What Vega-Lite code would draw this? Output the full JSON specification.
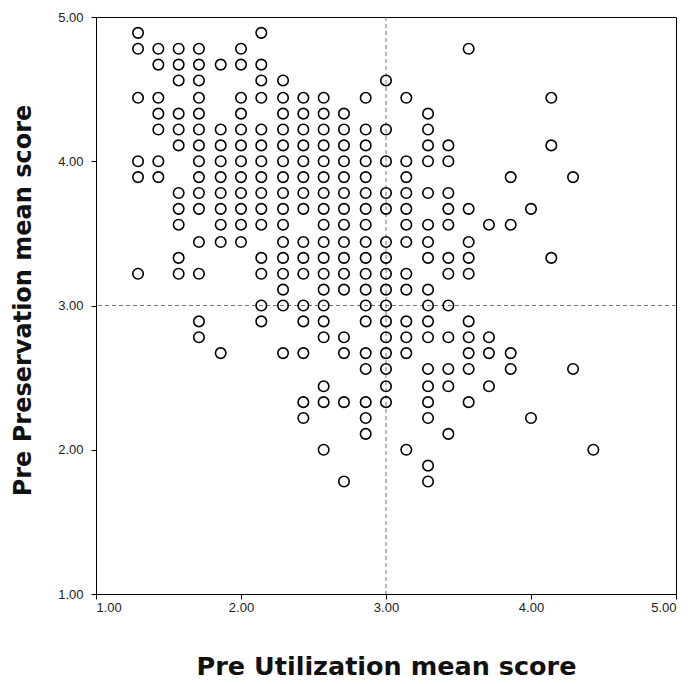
{
  "$schema": "https://vega.github.io/schema/vega-lite/v6.json",
  "width": 580,
  "height": 577,
  "autosize": "none",
  "padding": {"left": 96, "top": 17, "right": 16, "bottom": 90},
  "background": "white",
  "config": {"view": {"stroke": "black", "strokeWidth": 1}},
  "datasets": {
    "pts": [
      {"x":1.29,"y":4.89},{"x":1.29,"y":4.78},{"x":1.29,"y":4.44},{"x":1.29,"y":4.00},{"x":1.29,"y":3.89},{"x":1.29,"y":3.22},
      {"x":1.43,"y":4.78},{"x":1.43,"y":4.67},{"x":1.43,"y":4.44},{"x":1.43,"y":4.33},{"x":1.43,"y":4.22},{"x":1.43,"y":4.00},{"x":1.43,"y":3.89},
      {"x":1.57,"y":4.78},{"x":1.57,"y":4.67},{"x":1.57,"y":4.56},{"x":1.57,"y":4.33},{"x":1.57,"y":4.22},{"x":1.57,"y":4.11},{"x":1.57,"y":3.78},{"x":1.57,"y":3.67},{"x":1.57,"y":3.56},{"x":1.57,"y":3.33},{"x":1.57,"y":3.22},
      {"x":1.71,"y":4.78},{"x":1.71,"y":4.67},{"x":1.71,"y":4.56},{"x":1.71,"y":4.44},{"x":1.71,"y":4.33},{"x":1.71,"y":4.22},{"x":1.71,"y":4.11},{"x":1.71,"y":4.00},{"x":1.71,"y":3.89},{"x":1.71,"y":3.78},{"x":1.71,"y":3.67},{"x":1.71,"y":3.44},{"x":1.71,"y":3.22},{"x":1.71,"y":2.89},{"x":1.71,"y":2.78},
      {"x":1.86,"y":4.67},{"x":1.86,"y":4.22},{"x":1.86,"y":4.11},{"x":1.86,"y":4.00},{"x":1.86,"y":3.89},{"x":1.86,"y":3.78},{"x":1.86,"y":3.67},{"x":1.86,"y":3.56},{"x":1.86,"y":3.44},{"x":1.86,"y":2.67},
      {"x":2.00,"y":4.78},{"x":2.00,"y":4.67},{"x":2.00,"y":4.44},{"x":2.00,"y":4.33},{"x":2.00,"y":4.22},{"x":2.00,"y":4.11},{"x":2.00,"y":4.00},{"x":2.00,"y":3.89},{"x":2.00,"y":3.78},{"x":2.00,"y":3.67},{"x":2.00,"y":3.56},{"x":2.00,"y":3.44},
      {"x":2.14,"y":4.89},{"x":2.14,"y":4.67},{"x":2.14,"y":4.56},{"x":2.14,"y":4.44},{"x":2.14,"y":4.22},{"x":2.14,"y":4.11},{"x":2.14,"y":4.00},{"x":2.14,"y":3.89},{"x":2.14,"y":3.78},{"x":2.14,"y":3.67},{"x":2.14,"y":3.56},{"x":2.14,"y":3.33},{"x":2.14,"y":3.22},{"x":2.14,"y":3.00},{"x":2.14,"y":2.89},
      {"x":2.29,"y":4.56},{"x":2.29,"y":4.44},{"x":2.29,"y":4.33},{"x":2.29,"y":4.22},{"x":2.29,"y":4.11},{"x":2.29,"y":4.00},{"x":2.29,"y":3.89},{"x":2.29,"y":3.78},{"x":2.29,"y":3.67},{"x":2.29,"y":3.56},{"x":2.29,"y":3.44},{"x":2.29,"y":3.33},{"x":2.29,"y":3.22},{"x":2.29,"y":3.11},{"x":2.29,"y":3.00},{"x":2.29,"y":2.67},
      {"x":2.43,"y":4.44},{"x":2.43,"y":4.33},{"x":2.43,"y":4.22},{"x":2.43,"y":4.11},{"x":2.43,"y":4.00},{"x":2.43,"y":3.89},{"x":2.43,"y":3.78},{"x":2.43,"y":3.67},{"x":2.43,"y":3.44},{"x":2.43,"y":3.33},{"x":2.43,"y":3.22},{"x":2.43,"y":3.00},{"x":2.43,"y":2.89},{"x":2.43,"y":2.67},{"x":2.43,"y":2.33},{"x":2.43,"y":2.22},
      {"x":2.57,"y":4.44},{"x":2.57,"y":4.33},{"x":2.57,"y":4.22},{"x":2.57,"y":4.11},{"x":2.57,"y":4.00},{"x":2.57,"y":3.89},{"x":2.57,"y":3.78},{"x":2.57,"y":3.67},{"x":2.57,"y":3.56},{"x":2.57,"y":3.44},{"x":2.57,"y":3.33},{"x":2.57,"y":3.22},{"x":2.57,"y":3.11},{"x":2.57,"y":3.00},{"x":2.57,"y":2.89},{"x":2.57,"y":2.78},{"x":2.57,"y":2.44},{"x":2.57,"y":2.33},{"x":2.57,"y":2.00},
      {"x":2.71,"y":4.33},{"x":2.71,"y":4.22},{"x":2.71,"y":4.11},{"x":2.71,"y":4.00},{"x":2.71,"y":3.89},{"x":2.71,"y":3.78},{"x":2.71,"y":3.67},{"x":2.71,"y":3.56},{"x":2.71,"y":3.44},{"x":2.71,"y":3.33},{"x":2.71,"y":3.22},{"x":2.71,"y":3.11},{"x":2.71,"y":2.78},{"x":2.71,"y":2.67},{"x":2.71,"y":2.33},{"x":2.71,"y":1.78},
      {"x":2.86,"y":4.44},{"x":2.86,"y":4.22},{"x":2.86,"y":4.11},{"x":2.86,"y":4.00},{"x":2.86,"y":3.89},{"x":2.86,"y":3.78},{"x":2.86,"y":3.67},{"x":2.86,"y":3.56},{"x":2.86,"y":3.44},{"x":2.86,"y":3.33},{"x":2.86,"y":3.22},{"x":2.86,"y":3.11},{"x":2.86,"y":3.00},{"x":2.86,"y":2.89},{"x":2.86,"y":2.67},{"x":2.86,"y":2.56},{"x":2.86,"y":2.33},{"x":2.86,"y":2.22},{"x":2.86,"y":2.11},
      {"x":3.00,"y":4.56},{"x":3.00,"y":4.22},{"x":3.00,"y":4.00},{"x":3.00,"y":3.78},{"x":3.00,"y":3.67},{"x":3.00,"y":3.44},{"x":3.00,"y":3.33},{"x":3.00,"y":3.22},{"x":3.00,"y":3.11},{"x":3.00,"y":3.00},{"x":3.00,"y":2.89},{"x":3.00,"y":2.78},{"x":3.00,"y":2.67},{"x":3.00,"y":2.56},{"x":3.00,"y":2.44},{"x":3.00,"y":2.33},
      {"x":3.14,"y":4.44},{"x":3.14,"y":4.00},{"x":3.14,"y":3.89},{"x":3.14,"y":3.78},{"x":3.14,"y":3.67},{"x":3.14,"y":3.56},{"x":3.14,"y":3.44},{"x":3.14,"y":3.22},{"x":3.14,"y":3.11},{"x":3.14,"y":2.89},{"x":3.14,"y":2.78},{"x":3.14,"y":2.67},{"x":3.14,"y":2.00},
      {"x":3.29,"y":4.33},{"x":3.29,"y":4.22},{"x":3.29,"y":4.11},{"x":3.29,"y":4.00},{"x":3.29,"y":3.78},{"x":3.29,"y":3.56},{"x":3.29,"y":3.44},{"x":3.29,"y":3.33},{"x":3.29,"y":3.11},{"x":3.29,"y":3.00},{"x":3.29,"y":2.89},{"x":3.29,"y":2.78},{"x":3.29,"y":2.56},{"x":3.29,"y":2.44},{"x":3.29,"y":2.33},{"x":3.29,"y":2.22},{"x":3.29,"y":1.89},{"x":3.29,"y":1.78},
      {"x":3.43,"y":4.11},{"x":3.43,"y":4.00},{"x":3.43,"y":3.78},{"x":3.43,"y":3.67},{"x":3.43,"y":3.56},{"x":3.43,"y":3.33},{"x":3.43,"y":3.22},{"x":3.43,"y":3.00},{"x":3.43,"y":2.78},{"x":3.43,"y":2.56},{"x":3.43,"y":2.44},{"x":3.43,"y":2.11},
      {"x":3.57,"y":4.78},{"x":3.57,"y":3.67},{"x":3.57,"y":3.44},{"x":3.57,"y":3.33},{"x":3.57,"y":3.22},{"x":3.57,"y":2.89},{"x":3.57,"y":2.78},{"x":3.57,"y":2.67},{"x":3.57,"y":2.56},{"x":3.57,"y":2.33},
      {"x":3.71,"y":3.56},{"x":3.71,"y":2.78},{"x":3.71,"y":2.67},{"x":3.71,"y":2.44},
      {"x":3.86,"y":3.89},{"x":3.86,"y":3.56},{"x":3.86,"y":2.67},{"x":3.86,"y":2.56},
      {"x":4.00,"y":3.67},{"x":4.00,"y":2.22},
      {"x":4.14,"y":4.44},{"x":4.14,"y":4.11},{"x":4.14,"y":3.33},
      {"x":4.29,"y":3.89},{"x":4.29,"y":2.56},
      {"x":4.43,"y":2.00}
    ],
    "refs": [{"v": 3}]
  },
  "layer": [
    {
      "data": {"name": "refs"},
      "mark": {"type": "rule", "strokeDash": [4, 3], "color": "#777", "strokeWidth": 1},
      "encoding": {"x": {"field": "v", "type": "quantitative"}}
    },
    {
      "data": {"name": "refs"},
      "mark": {"type": "rule", "strokeDash": [4, 3], "color": "#777", "strokeWidth": 1},
      "encoding": {"y": {"field": "v", "type": "quantitative"}}
    },
    {
      "data": {"name": "pts"},
      "mark": {"type": "point", "shape": "circle", "filled": false, "stroke": "black", "strokeWidth": 1.6, "size": 110, "opacity": 1},
      "encoding": {
        "x": {
          "field": "x", "type": "quantitative",
          "scale": {"domain": [1, 5], "nice": false, "zero": false},
          "axis": {"title": "Pre Utilization mean score", "values": [1, 2, 3, 4, 5], "format": ".2f", "grid": false,
            "domainColor": "black", "tickColor": "black", "tickSize": 5, "labelFont": "Liberation Sans", "labelFontSize": 13,
            "labelColor": "#222", "labelPadding": 2, "titleFont": "DejaVu Sans", "titleFontSize": 25.5, "titleFontWeight": "bold",
            "titlePadding": 40, "titleColor": "#111"}
        },
        "y": {
          "field": "y", "type": "quantitative",
          "scale": {"domain": [1, 5], "nice": false, "zero": false},
          "axis": {"title": "Pre Preservation mean score", "values": [1, 2, 3, 4, 5], "format": ".2f", "grid": false,
            "domainColor": "black", "tickColor": "black", "tickSize": 5, "labelFont": "Liberation Sans", "labelFontSize": 13,
            "labelColor": "#222", "labelPadding": 8, "titleFont": "DejaVu Sans", "titleFontSize": 24, "titleFontWeight": "bold",
            "titlePadding": 22, "titleY": 283, "titleColor": "#111"}
        }
      }
    }
  ]
}
